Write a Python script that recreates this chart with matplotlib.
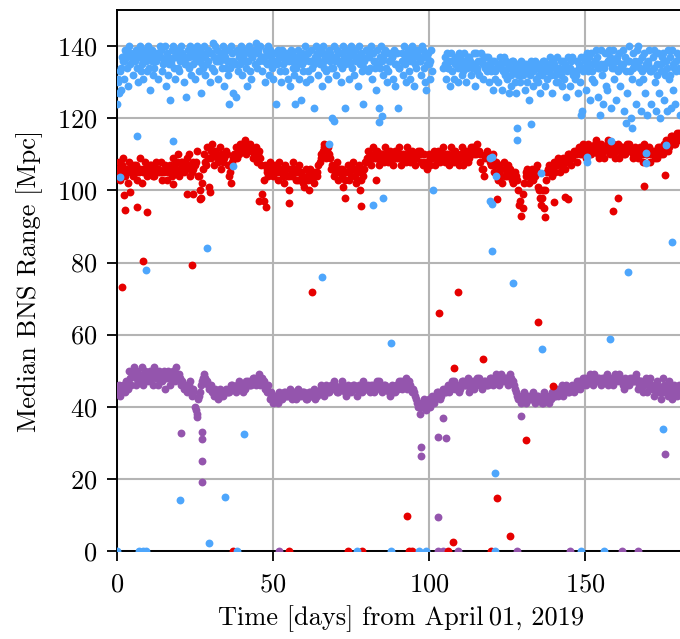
import numpy as np
import matplotlib
matplotlib.use("Agg")
import matplotlib.pyplot as plt

plt.rcParams['font.family'] = ['cmr10', 'DejaVu Serif']
plt.rcParams['mathtext.fontset'] = 'cm'
plt.rcParams['axes.formatter.use_mathtext'] = True

nan = np.nan

# median range, three samples per day (detector 1, blue)
blue_vals = [
    124, 130, 127, 133, 128, 137, 136, 131, 139, 138, 134, 129, 140, 135, 137,
    132, 138, 136, 139, 134, 130, 137, 140, 133, 135, 131, 138, 139, 136, 133,
    140, 134, 128, 137, 139, 132, 134, 138, 136, 131, 137, 140, 139, 133, 135,
    136, 140, 129, 138, 132, 135, 125, 136, 139, 140, 134, 131, 137, 139, 134,
    133, 136, 140, 138, 130, 135, 126, 137, 139, 134, 140, 132, 139, 135, 137,
    131, 138, 140, 136, 133, 139, 127, 137, 134, 140, 132, 138, 135, 139, 130,
    138, 134, 141, 133, 140, 136, 139, 131, 137, 136, 138, 134, 140, 129, 137,
    134, 139, 132, 124, 136, 140, 138, 127, 135, 126, 139, 133, 137, 135, 140,
    132, 138, 136, 139, 134, 129, 136, 140, 133, 131, 137, 139, 138, 135, 141,
    134, 139, 136, 140, 133, 137, 137, 130, 139, 135, 140, 132, 139, 136, 134,
    131, 138, 135, 124, 136, 139, 137, 133, 130, 139, 135, 137, 133, 138, 131,
    136, 129, 139, 138, 134, 132, 124, 137, 135, 139, 131, 136, 125, 138, 133,
    136, 140, 130, 138, 133, 136, 131, 139, 134, 123, 137, 140, 138, 132, 136,
    135, 139, 129, 140, 134, 137, 133, 138, 131, 139, 136, 134, 120, 137, 140,
    136, 132, 139, 138, 135, 130, 134, 140, 137, 123, 136, 139, 137, 131, 135,
    140, 134, 138, 132, 139, 136, 137, 129, 140, 135, 138, 133, 124, 136, 139,
    139, 133, 137, 134, 140, 131, 138, 136, 134, 128, 139, 135, 123, 137, 140,
    136, 132, 138, 139, 134, 130, 133, 138, 136, 137, 131, 139, 129, 135, 138,
    123, 134, nan, nan, 138, 132, 140, 135, 130, 136, 139, 133, 131, 137, 140,
    138, 129, 135, 134, 139, 137, 136, 132, 140, 139, 134, 130, 128, 137, 138,
    135, 131, 139, 133, nan, nan, nan, nan, nan, nan, nan, nan, nan, nan, 134,
    137, 131, 138, 134, 136, 129, 138, 133, 136, 131, 137, 135, 136, 130, 138,
    137, 134, 132, 133, 138, 136, 130, 135, 137, 137, 132, 134, 135, 138, 129,
    138, 133, 136, 132, 136, 138, 136, 131, 137, 134, 137, 133, 137, 130, 135,
    133, 136, 128, 136, 131, 134, 130, 135, 137, 135, 128, 133, 137, 132, 136,
    131, 135, 127, 134, 129, 136, 136, 133, 130, 127, 135, 132, 134, 130, 136,
    132, 135, 128, 135, 130, 133, 125, 134, 136, 133, 129, 135, 136, 131, 134,
    130, 135, 127, 134, 132, 136, 136, 129, 133, 131, 135, 137, 134, 127, 136,
    135, 132, 130, 137, 130, 134, 133, 136, 129, 136, 131, 135, 126, 134, 137,
    134, 129, 136, 137, 133, 131, 132, 136, 127, 135, 130, 137, 122, 134, 137,
    136, 128, 138, 133, 137, 125, 138, 131, 135, 130, 136, 139, 137, 126, 134,
    139, 132, 124, 135, 138, 129, 128, 136, 139, 137, 123, 134, 139, 131, 136,
    125, 137, 133, 138, 129, 135, 134, 139, 122, 137, 127, 136, 140, 133, 120,
    131, 138, 135, 136, 124, 139, 140, 130, 134, 122, 137, 131, 138, 127, 135,
    121, 136, 139, 133, 124, 137, 139, 130, 122, 135, 138, 127, 120, 133, 137,
    138, 125, 132, 136, 122, 139, 131, 137, 123, 139, 128, 134, 124, 136, 138,
    137, 121, 133,
]

# one extra sample per day near the middle of the blue band
blue_mid = [
    131, 134, 136, 137, 138, 136, 137, 138, 136, 137,
    138, 136, 137, 138, 137, 136, 137, 135, 137, 138,
    137, 136, 135, 137, 138, 137, 138, 135, 137, 136,
    138, 137, 136, 137, 138, 136, 134, 136, 135, 138,
    137, 136, 138, 137, 139, 138, 137, 136, 138, 137,
    136, 135, 137, 138, 136, 137, 136, 134, 137, 135,
    137, 138, 136, 135, 137, 138, 136, 137, 138, 134,
    137, 136, 138, 135, 136, 138, 137, 136, 137, 134,
    137, 138, 136, 135, 134, 137, 138, 136, 137, 135,
    134, 136, 137, 138, 136, 137, 138, 136, 137, 135,
    136, nan, nan, nan, nan, 135, 134, 136, 135, 134,
    136, 135, 134, 136, 135, 134, 136, 135, 134, 135,
    134, 133, 135, 134, 133, 134, 132, 134, 133, 132,
    133, 134, 132, 133, 134, 132, 133, 134, 133, 132,
    134, 133, 132, 134, 133, 134, 132, 133, 134, 133,
    134, 135, 133, 136, 134, 135, 134, 136, 135, 134,
    136, 134, 135, 133, 136, 134, 135, 136, 133, 134,
    135, 133, 134, 132, 135, 133, 134, 132, 135, 133,
    134,
]

# two samples per day (detector 2, red)
red_vals = [
    105, 108, 103, 107, 109, 104, 106, 102, 108, 105, 104, 107, 107, 103, 105, 109,
    102, 106, 108, 104, 105, 107, 107, 104, 104, 108, 106, 105, 108, 103, 105, 107,
    103, 106, 107, 104, 109, 105, 106, 110, 104, 108, 108, 105, 106, 109, 110, 104,
    105, 108, 107, 111, 104, 100, 98, 106, 110, 107, 112, 101, 109, 113, 107, 111,
    110, 108, 112, 106, 108, 110, 111, 107, 104, 102, 108, 110, 112, 109, 110, 113,
    113, 111, 114, 110, 111, 113, 112, 109, 110, 112, 108, 111, 109, 99, 97, 107,
    106, 104, 108, 105, 104, 107, 106, 103, 108, 105, 105, 102, 107, 104, 100, 106,
    104, 108, 106, 103, 103, 107, 105, 102, 101, 106, 104, 100, 106, 103, 102, 105,
    104, 107, 108, 110, 111, 113, 109, 112, 110, 106, 107, 104, 105, 108, 103, 106,
    106, 101, 98, 105, 107, 103, 104, 108, 106, 102, 103, 107, 100, 105, 104, 108,
    108, 111, 110, 107, 112, 109, 109, 111, 107, 110, 110, 108, 112, 109, 108, 111,
    110, 107, 111, 109, 109, 112, 107, 110, 110, 108, 112, 109, 108, 111, 110, 107,
    109, 111, 111, 108, 107, 110, 108, 106, 110, 107, 109, 111, 107, 110, 111, 108,
    109, 112, 108, 110, 110, 107, 112, 109, 108, 111, 110, 107, 109, 112, 107, 110,
    111, 108, 109, 112, 112, 110, 110, 113, 111, 108, 106, 104, 109, 111, 110, 108,
    107, 110, 105, 108, 103, 107, 106, 102, 108, 104, 104, 107, 106, 103, 102, 105,
    104, 100, 96, 93, 95, 102, 104, 106, 102, 105, 106, 103, 104, 107, 101, 98,
    96, 100, 95, 103, 105, 107, 106, 104, 108, 105, 107, 109, 105, 108, 109, 106,
    108, 110, 110, 107, 109, 111, 111, 108, 112, 110, 110, 113, 112, 109, 113, 111,
    110, 112, 112, 114, 111, 109, 113, 110, 109, 112, 112, 114, 110, 112, 113, 109,
    111, 113, 109, 112, 112, 110, 110, 113, 113, 111, 111, 109, 112, 110, 109, 112,
    111, 108, 113, 110, 110, 112, 108, 111, 111, 109, 109, 112, 112, 110, 110, 113,
    114, 111, 112, 115, 115, 113, 113, 116, 116, 114,
]

red_mid = [
    106, 105, 106, 105, 106, 106, 105, 106, 105, 106,
    106, 105, 106, 106, 105, 106, 105, 106, 107, 108,
    106, 107, 107, 107, 106, 108, 104, 102, 108, 109,
    111, 110, 109, 110, 109, 110, 105, 109, 110, 111,
    112, 112, 112, 111, 111, 110, 107, 103, 105, 106,
    105, 105, 106, 104, 106, 104, 106, 105, 105, 104,
    103, 103, 105, 104, 105, 109, 112, 111, 109, 106,
    106, 105, 104, 103, 105, 106, 104, 105, 103, 106,
    109, 109, 110, 110, 108, 109, 110, 110, 109, 110,
    110, 109, 109, 110, 109, 109, 110, 110, 108, 107,
    109, 110, 109, 110, 110, 109, 109, 110, 110, 109,
    110, 109, 110, 110, 111, 111, 110, 106, 110, 109,
    109, 107, 105, 104, 106, 106, 105, 104, 103, 97,
    99, 105, 104, 105, 106, 100, 98, 100, 106, 105,
    107, 108, 107, 108, 109, 109, 110, 110, 111, 111,
    111, 112, 111, 113, 110, 112, 111, 113, 111, 111,
    112, 111, 111, 112, 112, 110, 111, 111, 110, 112,
    111, 110, 110, 111, 111, 112, 112, 113, 114, 115,
    115,
]

# two samples per day (detector 3, purple)
purple_vals = [
    44, 46, 43, 45, 46, 44, 47, 45, 50, 46, 49, 51, 46, 50, 49, 47,
    51, 46, 50, 48, 47, 50, 49, 46, 51, 48, 46, 50, 49, 47, 50, 45,
    48, 50, 46, 49, 50, 47, 51, 48, 49, 46, 47, 45, 46, 44, 45, 47,
    43, 45, 40, 38, 42, 44, 46, 48, 49, 47, 47, 45, 46, 44, 43, 45,
    44, 42, 45, 43, 43, 44, 45, 44, 44, 46, 46, 45, 44, 46, 47, 45,
    46, 44, 45, 47, 47, 46, 46, 48, 48, 46, 47, 49, 46, 48, 47, 45,
    44, 46, 42, 44, 41, 43, 43, 41, 44, 42, 42, 44, 44, 43, 43, 45,
    42, 44, 44, 42, 45, 43, 43, 44, 44, 42, 42, 44, 44, 43, 45, 42,
    43, 44, 44, 46, 45, 43, 46, 44, 44, 46, 45, 47, 46, 44, 44, 45,
    47, 45, 45, 43, 46, 44, 44, 46, 46, 45, 43, 46, 45, 44, 47, 45,
    45, 46, 44, 46, 46, 44, 45, 47, 47, 45, 44, 46, 46, 45, 45, 43,
    46, 44, 44, 46, 45, 47, 47, 45, 46, 48, 45, 47, 46, 44, 45, 43,
    42, 40, 38, 41, 40, 42, 39, 41, 42, 40, 43, 41, 42, 44, 44, 42,
    43, 45, 45, 44, 46, 44, 45, 47, 47, 45, 46, 44, 45, 47, 47, 46,
    46, 48, 44, 46, 47, 45, 46, 48, 48, 46, 45, 47, 47, 46, 46, 48,
    48, 46, 47, 49, 48, 46, 49, 47, 47, 48, 48, 46, 49, 47, 47, 45,
    44, 42, 43, 41, 42, 44, 41, 43, 43, 42, 42, 44, 41, 43, 43, 42,
    42, 41, 44, 42, 43, 41, 42, 44, 44, 43, 45, 43, 44, 46, 43, 45,
    46, 44, 44, 45, 46, 44, 45, 47, 47, 45, 46, 48, 48, 46, 47, 49,
    48, 46, 49, 47, 47, 48, 46, 48, 48, 47, 49, 46, 47, 48, 46, 49,
    48, 47, 49, 47, 47, 45, 48, 46, 46, 48, 48, 47, 47, 49, 45, 47,
    47, 44, 46, 48, 44, 47, 48, 45, 43, 46, 47, 44, 45, 42, 48, 44,
    46, 43, 47, 44, 42, 46, 45, 43, 46, 44,
]

purple_mid = [
    45, 44, 45, 46, 48, 50, 48, 48, 48, 49,
    48, 48, 49, 48, 48, 48, 49, 48, 48, 49,
    48, 46, 45, 46, 44, 39, 43, 47, 48, 46,
    45, 44, 43, 44, 44, 44, 45, 45, 45, 46,
    45, 46, 46, 47, 47, 48, 47, 46, 45, 43,
    42, 42, 43, 43, 43, 44, 43, 43, 44, 44,
    43, 43, 43, 44, 44, 45, 44, 45, 45, 46,
    45, 45, 46, 44, 45, 45, 45, 45, 45, 46,
    45, 45, 45, 46, 46, 45, 45, 44, 45, 45,
    46, 46, 47, 46, 45, 44, 41, 40, 41, 40,
    41, 42, 43, 43, 44, 44, 45, 46, 46, 45,
    46, 46, 47, 45, 46, 47, 47, 46, 46, 47,
    47, 48, 47, 48, 48, 47, 48, 46, 43, 42,
    43, 42, 42, 43, 42, 42, 41, 43, 42, 43,
    43, 44, 45, 44, 45, 45, 45, 46, 46, 47,
    47, 48, 47, 48, 48, 47, 48, 48, 47, 48,
    48, 48, 46, 47, 47, 47, 48, 46, 46, 47,
    46, 46, 45, 46, 44, 46, 45, 46, 44, 44,
    45,
]

# isolated points (day, Mpc)
blue_out_t = [1.0, 6.4, 18.0, 37.3, 67.9, 69.5, 84.0, 85.0, 82.2, 85.4, 101.2, 119.6,
              119.6, 120.2, 121.5, 120.2, 128.3, 128.3, 132.8, 136.0, 148.9, 154.8,
              150.8, 150.8, 158.2, 163.3, 165.0, 169.5, 169.5, 175.9,
              9.3, 28.9, 65.6, 87.8, 120.3, 127.0, 136.3, 157.9, 163.7, 177.8,
              175.0, 121.2, 40.8, 20.3, 34.7, 29.6,
              0.0, 7.0, 8.4, 9.4, 38.5, 77.0, 87.8, 96.8, 99.0, 121.2, 148.6, 156.0]
blue_out_v = [103.6, 115.0, 113.6, 106.7, 113.0, 119.4, 119.0, 120.6, 95.9, 98.0, 100.0, 109.0,
              97.0, 109.2, 104.0, 96.1, 117.2, 113.9, 118.3, 104.7, 121.0, 121.0,
              109.2, 107.8, 113.6, 118.6, 117.2, 110.5, 107.5, 112.5,
              78.0, 83.9, 76.1, 57.8, 83.3, 74.4, 56.1, 58.9, 77.5, 85.8,
              33.9, 21.6, 32.5, 14.0, 15.0, 2.2,
              0, 0, 0, 0, 0, 0, 0, 0, 0, 0, 0, 0]

red_out_t = [2.3, 2.6, 4.2, 6.4, 9.6, 18.0, 22.5, 24.5, 26.6, 29.9, 45.5, 47.8, 55.0,
             78.1, 83.0, 121.8, 143.5, 144.5, 140.0, 137.3, 160.7, 159.0, 168.8, 175.8,
             1.6, 8.4, 24.1, 62.4, 103.2, 109.3, 135.0, 117.4, 108.0, 139.9, 131.2,
             121.8, 92.9, 107.6, 126.0,
             37.2, 55.0, 74.0, 78.5, 93.6, 94.5, 106.0, 120.0]
red_out_v = [98.8, 94.7, 99.7, 95.3, 93.9, 101.7, 98.9, 99.0, 97.5, 99.7, 97.0, 95.4, 96.6,
             95.6, 103.0, 97.5, 98.3, 97.7, 96.7, 92.5, 97.8, 94.2, 101.1, 104.2,
             73.3, 80.3, 79.2, 71.7, 66.1, 71.7, 63.6, 53.3, 50.8, 45.6, 30.8,
             14.7, 9.7, 2.5, 4.2,
             0, 0, 0, 0, 0, 0, 0, 0]

purple_out_t = [20.5, 27.3, 27.3, 27.3, 27.3, 25.7, 97.4, 97.6, 102.8, 105.5, 104.4,
                102.8, 129.6, 175.6,
                51.8, 102.8, 104.4, 109.4, 128.3, 145.3, 162.0, 167.0]
purple_out_v = [32.8, 33.0, 31.0, 25.0, 19.2, 37.2, 28.9, 26.4, 31.7, 31.2, 36.9,
                9.4, 37.5, 26.8,
                0, 0, 0, 0, 0, 0, 0, 0]

c_blue = '#4ea6fc'
c_red = '#e60000'
c_purple = '#9455ad'

t_blue = np.arange(len(blue_vals)) / 3.0
t_red = np.arange(len(red_vals)) / 2.0
t_purple = np.arange(len(purple_vals)) / 2.0
t_mid = np.arange(len(red_mid)) + 0.25

fig = plt.figure(figsize=(6.8, 6.39), dpi=100)
ax = fig.add_axes([0.172, 0.138, 0.835, 0.846])

ms = 32
ax.scatter(t_purple, purple_vals, s=ms, c=c_purple, lw=0, zorder=3)
ax.scatter(t_mid, purple_mid, s=ms, c=c_purple, lw=0, zorder=3)
ax.scatter(purple_out_t, purple_out_v, s=ms, c=c_purple, lw=0, zorder=3)
ax.scatter(t_red, red_vals, s=ms, c=c_red, lw=0, zorder=4)
ax.scatter(t_mid, red_mid, s=ms, c=c_red, lw=0, zorder=4)
ax.scatter(red_out_t, red_out_v, s=ms, c=c_red, lw=0, zorder=4)
ax.scatter(t_blue, blue_vals, s=ms, c=c_blue, lw=0, zorder=5)
ax.scatter(t_mid, blue_mid, s=ms, c=c_blue, lw=0, zorder=5)
ax.scatter(blue_out_t, blue_out_v, s=ms, c=c_blue, lw=0, zorder=5)

ax.set_xlim(0, 182)
ax.set_ylim(0, 150)
ax.set_xticks([0, 50, 100, 150])
ax.set_yticks([0, 20, 40, 60, 80, 100, 120, 140])
ax.grid(True, color='#b4b4b4', lw=1.5, zorder=0)
ax.set_axisbelow(True)
ax.tick_params(direction='out', length=7, width=1.3, labelsize=19)
ax.tick_params(axis='x', pad=9)
ax.tick_params(axis='y', pad=7)
for s in ['left', 'bottom', 'top']:
    ax.spines[s].set_linewidth(1.4)
ax.spines['right'].set_visible(False)

ax.set_xlabel('Time [days] from April\u200901, 2019', fontsize=19, labelpad=6)
ax.set_ylabel('Median BNS Range [Mpc]', fontsize=19, labelpad=10)

fig.savefig('out.png', dpi=100)
